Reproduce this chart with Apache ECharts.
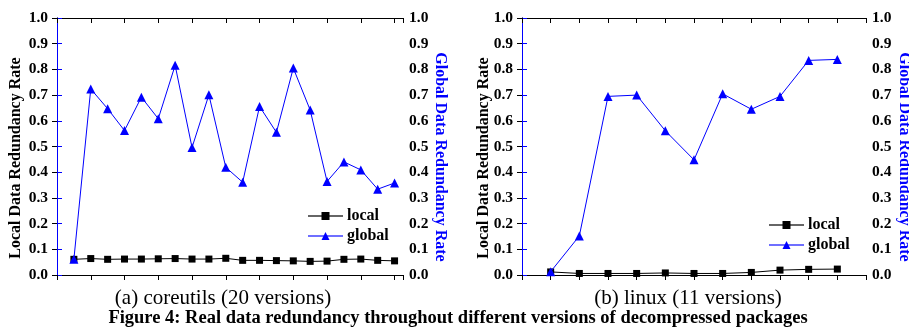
<!DOCTYPE html>
<html>
<head>
<meta charset="utf-8">
<script src="https://cdn.jsdelivr.net/npm/echarts@6/dist/echarts.min.js"></script>
<style>
html,body{margin:0;padding:0;background:#fff;}
#chart{width:909px;height:329px;}
</style>
</head>
<body>
<div id="chart"></div>
<script>
// ---- data ----
const coreVersions = [1,2,3,4,5,6,7,8,9,10,11,12,13,14,15,16,17,18,19,20];
const coreLocal  = [0.061,0.064,0.061,0.062,0.062,0.063,0.064,0.062,0.062,0.065,0.057,0.057,0.056,0.055,0.053,0.054,0.061,0.062,0.057,0.055];
const coreGlobal = [0.061,0.724,0.647,0.562,0.692,0.608,0.816,0.496,0.701,0.419,0.361,0.656,0.555,0.805,0.642,0.364,0.440,0.409,0.334,0.358];
const linuxVersions = [1,2,3,4,5,6,7,8,9,10,11];
const linuxLocal  = [0.012,0.006,0.006,0.006,0.008,0.006,0.006,0.010,0.019,0.022,0.023];
const linuxGlobal = [0.013,0.152,0.695,0.700,0.561,0.448,0.705,0.645,0.695,0.835,0.839];
const seriesNames = ['local','global'];
const leftAxisName = 'Local Data Redundancy Rate';
const rightAxisName = 'Global Data Redundancy Rate';
const captionA = '(a) coreutils (20 versions)';
const captionB = '(b) linux (11 versions)';
const figCaption = 'Figure 4: Real data redundancy throughout different versions of decompressed packages';

const FONT = '"Liberation Serif", "Times New Roman", serif';
const pairs = (xs, ys) => xs.map((x, i) => [x, ys[i]]);

function xAx(grid, pos, max, interval) {
  return {
    type: 'value', gridIndex: grid, position: pos, min: 0, max: max, interval: interval,
    axisLine: { show: true, onZero: false, lineStyle: { color: '#000', width: 1 } },
    axisTick: { show: true, inside: pos === 'top', length: 5, lineStyle: { color: '#000' } },
    axisLabel: { show: false },
    splitLine: { show: false }
  };
}
function yAx(grid, pos) {
  const c = pos === 'left' ? '#000' : '#0000ff';
  return {
    type: 'value', gridIndex: grid, position: pos, min: 0, max: 1, interval: 0.1,
    axisLine: { show: true, lineStyle: { color: c, width: 1 } },
    axisTick: { show: true, inside: false, length: 5, lineStyle: { color: c } },
    axisLabel: {
      show: true, margin: pos === 'left' ? 9 : 6, color: '#000',
      fontFamily: FONT, fontWeight: 'bold', fontSize: 15.5,
      formatter: v => v.toFixed(1)
    },
    splitLine: { show: false }
  };
}
function lineSeries(name, xi, yi, data, isLocal) {
  return {
    name: name, type: 'line', xAxisIndex: xi, yAxisIndex: yi, data: data,
    symbol: isLocal ? 'rect' : 'triangle', symbolSize: isLocal ? 7 : 9,
    itemStyle: { color: isLocal ? '#000' : '#0000ff' },
    lineStyle: { color: isLocal ? '#000' : '#0000ff', width: 1 },
    z: isLocal ? 2 : 3
  };
}
function legendAt(left, top) {
  return {
    orient: 'vertical', left: left, top: top, padding: 0, itemWidth: 35, itemHeight: 10, itemGap: 4,
    data: [
      { name: seriesNames[0], lineStyle: { color: '#666' } },
      { name: seriesNames[1], lineStyle: { color: '#6f6fff' } }
    ],
    textStyle: { fontFamily: FONT, fontWeight: 'bold', fontSize: 16, color: '#000', padding: [0,0,0,-1] },
    selectedMode: false
  };
}
function vText(x, y, text, rot, color) {
  return {
    type: 'text', x: x, y: y, rotation: rot,
    style: { text: text, fill: color, font: 'bold 16px ' + FONT, align: 'center', verticalAlign: 'middle' }
  };
}
function hText(x, y, text, font) {
  return {
    type: 'text', x: x, y: y,
    style: { text: text, fill: '#000', font: font, align: 'center', verticalAlign: 'middle' }
  };
}

const chart = echarts.init(document.getElementById('chart'), null, { renderer: 'canvas' });
chart.setOption({
  animation: false,
  backgroundColor: '#fff',
  grid: [
    { left: 57, top: 18, width: 346, height: 257 },
    { left: 522, top: 18, width: 344, height: 257 }
  ],
  xAxis: [ xAx(0, 'bottom', 20.5, 2), xAx(0, 'top', 20.5, 2), xAx(1, 'bottom', 12, 1), xAx(1, 'top', 12, 1) ],
  yAxis: [ yAx(0, 'left'), yAx(0, 'right'), yAx(1, 'left'), yAx(1, 'right') ],
  legend: [ legendAt(307, 208), legendAt(768, 217) ],
  series: [
    lineSeries(seriesNames[0], 0, 0, pairs(coreVersions, coreLocal), true),
    lineSeries(seriesNames[1], 0, 1, pairs(coreVersions, coreGlobal), false),
    lineSeries(seriesNames[0], 2, 2, pairs(linuxVersions, linuxLocal), true),
    lineSeries(seriesNames[1], 2, 3, pairs(linuxVersions, linuxGlobal), false)
  ],
  graphic: [
    vText(15.5, 158, leftAxisName, Math.PI / 2, '#000'),
    vText(440, 157, rightAxisName, -Math.PI / 2, '#0000ff'),
    vText(484, 158, leftAxisName, Math.PI / 2, '#000'),
    vText(904, 157, rightAxisName, -Math.PI / 2, '#0000ff'),
    hText(223, 298, captionA, '21px ' + FONT),
    hText(688, 298, captionB, '21px ' + FONT),
    hText(458, 318, figCaption, 'bold 18.5px ' + FONT)
  ]
});
</script>
</body>
</html>
